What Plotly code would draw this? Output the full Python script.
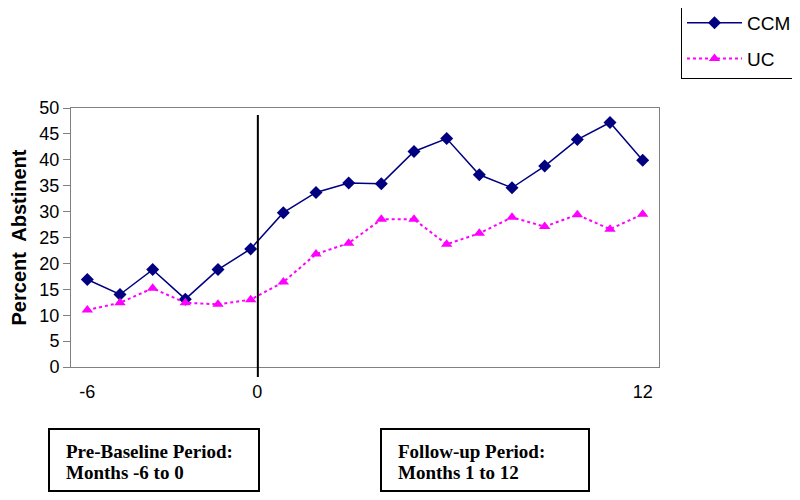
import plotly.graph_objects as go

# Data
months = ["-6", "-5", "-4", "-3", "-2", "-1", "1", "2", "3", "4", "5", "6",
          "7", "8", "9", "10", "11", "12"]
ccm = [16.9, 14.0, 18.8, 13.1, 18.8, 22.8, 29.8, 33.7, 35.5, 35.4, 41.6, 44.1,
       37.1, 34.6, 38.8, 43.9, 47.2, 39.9]
uc = [11.0, 12.4, 15.2, 12.4, 12.1, 13.0, 16.4, 21.8, 23.9, 28.5, 28.5, 23.7,
      25.8, 28.9, 27.1, 29.4, 26.6, 29.5]
xtick_labels = ["-6", "0", "12"]
baseline_pos = 5.22

xi = list(range(len(months)))

fig = go.Figure()
fig.add_trace(go.Scatter(
    x=xi, y=ccm, name="CCM", mode="lines+markers", legendgroup="a",
    line=dict(color="#000080", width=1.5),
    marker=dict(symbol="diamond", size=10, color="#000080"),
    customdata=months,
))
fig.add_trace(go.Scatter(
    x=xi, y=uc, name="UC", mode="lines+markers", legendgroup="b",
    line=dict(color="#FF00FF", width=2, dash="3px,3px"),
    marker=dict(symbol="triangle-up", size=10, color="#FF00FF"),
    customdata=months,
))

OFF = 8  # page body margin
W, H = 800 - OFF, 500 - OFF
L, T = 71 - OFF, 108 - OFF
R, B = W - (659 - OFF), H - (367 - OFF)
pw, ph = W - L - R, H - T - B


def px_x(p):
    return (p - OFF - L) / pw


def px_y(p):
    return (H - B - (p - OFF)) / ph


fig.add_shape(type="line", xref="x", yref="paper",
              x0=baseline_pos, x1=baseline_pos, y0=px_y(377), y1=px_y(115),
              line=dict(color="black", width=2))

# Period boxes
boxes = [(49, 259, "Pre-Baseline Period:", "Months -6 to 0"),
         (381, 589, "Follow-up Period:", "Months 1 to 12")]
for (x0, x1, t1, t2) in boxes:
    fig.add_shape(type="rect", xref="paper", yref="paper",
                  x0=px_x(x0), x1=px_x(x1), y0=px_y(491), y1=px_y(429),
                  line=dict(color="black", width=2), fillcolor="white")
    for txt, yy in [(t1, 451), (t2, 472)]:
        fig.add_annotation(xref="paper", yref="paper", x=px_x(x0 + 15), y=px_y(yy),
                           xanchor="left", yanchor="middle", align="left",
                           text="<b>" + txt + "</b>", showarrow=False,
                           font=dict(family="Liberation Serif", size=19, color="black"))

fig.update_layout(
    width=W, height=H,
    margin=dict(l=L, r=R, t=T, b=B, autoexpand=False),
    paper_bgcolor="white", plot_bgcolor="white",
    font=dict(family="Liberation Sans, Arial", size=18, color="black"),
    showlegend=True,
    legend=dict(x=px_x(681), y=px_y(3), xanchor="left", yanchor="top",
                bordercolor="black", borderwidth=1, bgcolor="white",
                font=dict(size=19), tracegroupgap=8, itemwidth=55),
    xaxis=dict(range=[-0.5, 17.5], tickmode="array",
               tickvals=[0, 5.2, 17], ticktext=xtick_labels,
               showgrid=False, zeroline=False, showline=True, mirror=True,
               linecolor="#808080", linewidth=1, ticks="",
               ticklabelstandoff=8),
    yaxis=dict(range=[0, 50], dtick=5, showgrid=False, zeroline=False,
               showline=True, mirror=True, linecolor="#808080", linewidth=1,
               ticks="outside", ticklen=7, tickcolor="#808080",
               title=dict(text="<b>Percent\u00a0 Abstinent</b>", standoff=10,
                          font=dict(size=20))),
)

fig.write_html("out.html")
